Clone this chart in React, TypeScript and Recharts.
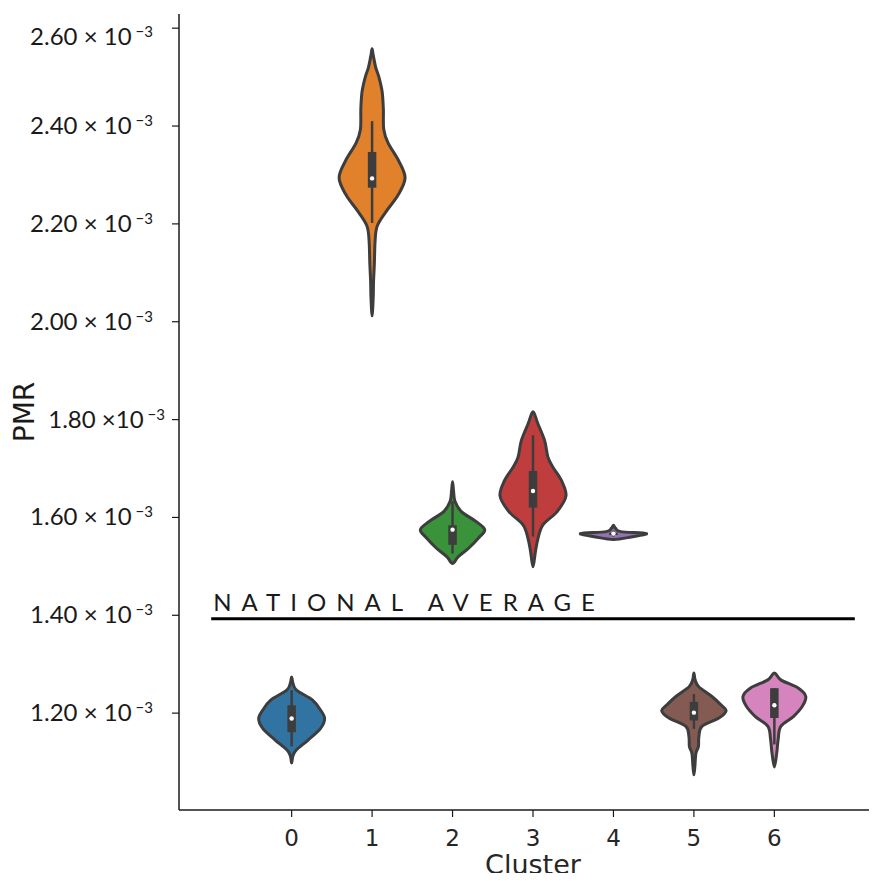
import React from "react";
import {
  ComposedChart,
  Scatter,
  XAxis,
  YAxis,
  ReferenceLine,
  ReferenceDot,
  Label,
} from "recharts";

// cluster ids and seaborn palette
const clusters = [0, 1, 2, 3, 4, 5, 6];
const palette = ["#3274a1", "#e1812c", "#3a923a", "#c03d3e", "#9372b2", "#845b53", "#d684bd"];

// violin outlines: PMR level (x 10^-3) from bottom tip to top tip, half width in cluster units
const levels0 = [1.098, 1.112, 1.125, 1.145, 1.169, 1.189, 1.206, 1.227, 1.247, 1.262, 1.274];
const widths0 = [0, 0.015, 0.06, 0.205, 0.36, 0.41, 0.36, 0.257, 0.06, 0.015, 0];

const levels1 = [2.012, 2.05, 2.082, 2.118, 2.167, 2.196, 2.224, 2.259, 2.294, 2.329, 2.365, 2.393, 2.435, 2.47, 2.5, 2.52, 2.545, 2.558];
const widths1 = [0, 0.014, 0.018, 0.028, 0.038, 0.065, 0.169, 0.323, 0.41, 0.33, 0.2, 0.145, 0.14, 0.125, 0.085, 0.045, 0.014, 0];

const levels2 = [1.506, 1.52, 1.537, 1.558, 1.575, 1.592, 1.612, 1.633, 1.655, 1.673];
const widths2 = [0, 0.072, 0.2, 0.323, 0.4, 0.29, 0.11, 0.03, 0.012, 0];

const levels3 = [1.499, 1.53, 1.557, 1.585, 1.612, 1.644, 1.675, 1.702, 1.723, 1.757, 1.792, 1.816];
const widths3 = [0, 0.03, 0.062, 0.124, 0.3, 0.41, 0.355, 0.25, 0.186, 0.145, 0.06, 0];

const levels4 = [1.555, 1.56, 1.567, 1.571, 1.578, 1.584];
const widths4 = [0, 0.22, 0.41, 0.09, 0.025, 0];

const levels5 = [1.074, 1.091, 1.118, 1.132, 1.152, 1.173, 1.19, 1.205, 1.217, 1.234, 1.254, 1.268, 1.282];
const widths5 = [0, 0.012, 0.025, 0.056, 0.062, 0.1, 0.31, 0.4, 0.335, 0.224, 0.06, 0.015, 0];

const levels6 = [1.09, 1.118, 1.146, 1.173, 1.193, 1.214, 1.234, 1.251, 1.268, 1.282];
const widths6 = [0, 0.029, 0.047, 0.08, 0.236, 0.348, 0.39, 0.3, 0.08, 0];

const violinLevels = [levels0, levels1, levels2, levels3, levels4, levels5, levels6];
const violinWidths = [widths0, widths1, widths2, widths3, widths4, widths5, widths6];

// inner box: whisker low, q1, median, q3, whisker high
const whiskerLow = [1.132, 2.202, 1.526, 1.561, 1.561, 1.168, 1.136];
const quartile1 = [1.161, 2.274, 1.544, 1.62, 1.564, 1.185, 1.19];
const medians = [1.189, 2.293, 1.575, 1.654, 1.567, 1.201, 1.216];
const quartile3 = [1.216, 2.347, 1.584, 1.695, 1.569, 1.223, 1.251];
const whiskerHigh = [1.247, 2.41, 1.633, 1.768, 1.573, 1.239, 1.251];

const yTicks = [1.2, 1.4, 1.6, 1.8, 2.0, 2.2, 2.4, 2.6];
const yTickText = ["1.20 × 10", "1.40 × 10", "1.60 × 10", "1.80 ×10", "2.00 × 10", "2.20 × 10", "2.40 × 10", "2.60 × 10"];
const nationalAverage = 1.393;

const EDGE = "#3d3d3d";
const INK = "#1a1a1a";

function outline(c: number, levels: number[], widths: number[]) {
  const right = levels.map((y, i) => ({ x: c + widths[i], y }));
  const left = levels.map((y, i) => ({ x: c - widths[i], y })).reverse();
  return [...right, ...left.slice(1)];
}

// closed catmull-rom through the outline points (pixel coords)
function smoothClosed(pts: { x: number; y: number }[]) {
  const p = pts.slice(0, -1);
  const n = p.length;
  let d = `M${p[0].x},${p[0].y}`;
  for (let i = 0; i < n; i++) {
    const p0 = p[(i - 1 + n) % n];
    const p1 = p[i];
    const p2 = p[(i + 1) % n];
    const p3 = p[(i + 2) % n];
    const c1x = p1.x + (p2.x - p0.x) / 6;
    const c1y = p1.y + (p2.y - p0.y) / 6;
    const c2x = p2.x - (p3.x - p1.x) / 6;
    const c2y = p2.y - (p3.y - p1.y) / 6;
    d += `C${c1x},${c1y} ${c2x},${c2y} ${p2.x},${p2.y}`;
  }
  return d + "Z";
}

const violinLine = (fill: string) => (props: any) =>
  <path d={smoothClosed(props.points)} fill={fill} stroke={EDGE} strokeWidth={3} strokeLinejoin="round" />;

const noDot = () => <g />;

function PmrTick(props: any) {
  const { x, y, payload } = props;
  const i = yTicks.findIndex((t) => Math.abs(t - payload.value) < 1e-6);
  if (i < 0) return null;
  // hand-placed labels in the original: top one sits lower, 1.80 pushed right
  const dy = payload.value > 2.59 ? 9 : 0;
  const dx = Math.abs(payload.value - 1.8) < 1e-6 ? 12 : 0;
  return (
    <text x={x + dx} y={y + 8 + dy} textAnchor="end" fontFamily="Lato" fontSize={24} fill={INK}>
      <tspan>{yTickText[i]}</tspan>
      <tspan dx={4} dy={-8} fontSize={15}>−3</tspan>
    </text>
  );
}

function NationalLabel(props: any) {
  const vb = props.viewBox || { x: 0, y: 0 };
  return (
    <text x={vb.x + 2} y={vb.y - 8} fontFamily="Lato" fontSize={24} letterSpacing={10} fill={INK}>
      NATIONAL AVERAGE
    </text>
  );
}

function PmrLabel(props: any) {
  const vb = props.viewBox || { x: 0, y: 0, height: 0 };
  const cy = vb.y + vb.height / 2;
  return (
    <text x={24} y={cy} transform={`rotate(-90 24 ${cy})`} textAnchor="middle" dominantBaseline="central"
      fontFamily="DejaVu Sans" fontSize={28} fill={INK}>
      PMR
    </text>
  );
}

function ClusterLabel(props: any) {
  const vb = props.viewBox || { x: 0, y: 0, width: 0, height: 0 };
  return (
    <text x={vb.x + vb.width / 2} y={874} textAnchor="middle"
      fontFamily="DejaVu Sans" fontSize={27} fill="#262626">
      Cluster
    </text>
  );
}

export default function App() {
  return (
    <div style={{ margin: -8, width: 877, height: 881, overflow: "hidden", background: "#fff" }}>
      <ComposedChart width={887} height={881} margin={{ top: 14, right: 0, bottom: 0, left: 0 }}>
        <XAxis
          type="number"
          dataKey="x"
          domain={[-1.4, 7.4]}
          ticks={clusters}
          interval={0}
          allowDataOverflow
          height={71}
          tickSize={7}
          tickMargin={13}
          axisLine={{ stroke: INK, strokeWidth: 1.5 }}
          tickLine={{ stroke: INK, strokeWidth: 1.2 }}
          tick={{ fill: "#262626", fontSize: 23, fontFamily: "DejaVu Sans" }}
        >
          <Label content={<ClusterLabel />} />
        </XAxis>
        <XAxis
          xAxisId="top"
          orientation="top"
          type="number"
          domain={[-1.4, 7.4]}
          height={0}
          tick={false}
          tickLine={false}
          axisLine={{ stroke: INK, strokeWidth: 1.5 }}
        />
        <YAxis
          type="number"
          dataKey="y"
          domain={[1.002, 2.629]}
          ticks={yTicks}
          interval={0}
          allowDataOverflow
          width={179}
          tickSize={7}
          tickMargin={19}
          axisLine={{ stroke: INK, strokeWidth: 1.5 }}
          tickLine={{ stroke: INK, strokeWidth: 1.2 }}
          tick={<PmrTick />}
        >
          <Label content={<PmrLabel />} />
        </YAxis>

        {clusters.map((c) => (
          <Scatter
            key={`v${c}`}
            data={outline(c, violinLevels[c], violinWidths[c])}
            line={violinLine(palette[c])}
            lineType="joint"
            shape={noDot}
            legendType="none"
            isAnimationActive={false}
          />
        ))}

        {clusters.map((c) => (
          <Scatter
            key={`w${c}`}
            data={[{ x: c, y: whiskerLow[c] }, { x: c, y: whiskerHigh[c] }]}
            line={{ stroke: EDGE, strokeWidth: 2.5 }}
            lineType="joint"
            shape={noDot}
            legendType="none"
            isAnimationActive={false}
          />
        ))}
        {clusters.map((c) => (
          <Scatter
            key={`b${c}`}
            data={[{ x: c, y: quartile1[c] }, { x: c, y: quartile3[c] }]}
            line={{ stroke: EDGE, strokeWidth: 8.5 }}
            lineType="joint"
            shape={noDot}
            legendType="none"
            isAnimationActive={false}
          />
        ))}
        {clusters.map((c) => (
          <ReferenceDot key={`m${c}`} x={c} y={medians[c]} r={2.2} fill="#fff" stroke="none" />
        ))}

        <ReferenceLine
          segment={[{ x: -1, y: nationalAverage }, { x: 7, y: nationalAverage }]}
          stroke="#000"
          strokeWidth={3}
          label={<NationalLabel />}
        />
      </ComposedChart>
    </div>
  );
}
